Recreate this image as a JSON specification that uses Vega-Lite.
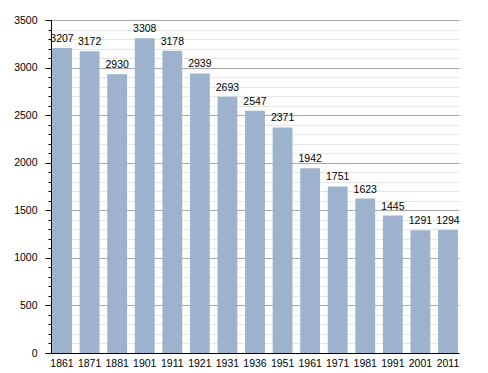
{
  "$schema": "https://vega.github.io/schema/vega-lite/v6.json",
  "width": 408,
  "height": 333,
  "autosize": "none",
  "padding": {"left": 51, "top": 20, "right": 29, "bottom": 20},
  "background": "white",
  "config": {
    "view": {"stroke": null},
    "font": "Liberation Sans",
    "axis": {"labelFont": "Liberation Sans", "labelColor": "#000", "labelFontSize": 10.5}
  },
  "data": {
    "values": [
      {"year": "1861", "pop": 3207},
      {"year": "1871", "pop": 3172},
      {"year": "1881", "pop": 2930},
      {"year": "1901", "pop": 3308},
      {"year": "1911", "pop": 3178},
      {"year": "1921", "pop": 2939},
      {"year": "1931", "pop": 2693},
      {"year": "1936", "pop": 2547},
      {"year": "1951", "pop": 2371},
      {"year": "1961", "pop": 1942},
      {"year": "1971", "pop": 1751},
      {"year": "1981", "pop": 1623},
      {"year": "1991", "pop": 1445},
      {"year": "2001", "pop": 1291},
      {"year": "2011", "pop": 1294}
    ]
  },
  "encoding": {
    "x": {
      "field": "year", "type": "nominal", "sort": null,
      "scale": {"paddingInner": 0.28, "paddingOuter": 0.04},
      "axis": {"title": null, "labelAngle": 0, "ticks": false, "tickSize": 0, "labelPadding": 5, "domainColor": "#000", "grid": false}
    },
    "y": {
      "field": "pop", "type": "quantitative",
      "scale": {"domain": [0, 3500], "nice": false},
      "axis": {
        "title": null,
        "values": [0,100,200,300,400,500,600,700,800,900,1000,1100,1200,1300,1400,1500,1600,1700,1800,1900,2000,2100,2200,2300,2400,2500,2600,2700,2800,2900,3000,3100,3200,3300,3400,3500],
        "labelExpr": "datum.value % 500 === 0 ? datum.label : ''",
        "format": "d",
        "grid": true,
        "gridColor": {"condition": {"test": "datum.value % 500 === 0", "value": "#a8a8a8"}, "value": "#e6e6e6"},
        "tickSize": {"condition": {"test": "datum.value % 500 === 0", "value": 6}, "value": 3},
        "tickColor": "#000",
        "labelPadding": 8,
        "domainColor": "#000",
        "labelFlush": false
      }
    }
  },
  "layer": [
    {"mark": {"type": "bar", "color": "#9cb2cd"}},
    {
      "mark": {"type": "text", "baseline": "bottom", "dy": -4, "fontSize": 10.5, "color": "#000", "font": "Liberation Sans"},
      "encoding": {"text": {"field": "pop", "type": "quantitative", "format": "d"}}
    }
  ]
}
